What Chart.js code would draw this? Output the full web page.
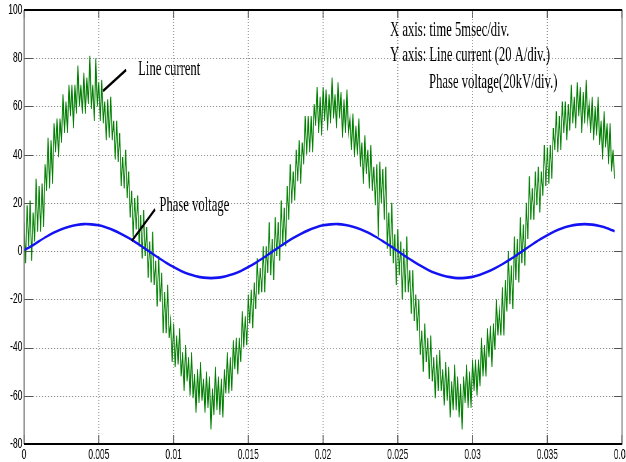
<!DOCTYPE html>
<html><head><meta charset="utf-8">
<script src="https://cdn.jsdelivr.net/npm/chart.js@4/dist/chart.umd.min.js"></script>
<style>
html,body{margin:0;padding:0;background:#fff;overflow:hidden;width:626px;height:462px;}
#c{display:block;width:1040px;height:462px;transform:scaleX(0.601923);transform-origin:0 0;}
</style></head><body>
<canvas id="c" width="1040" height="462"></canvas>
<script>
// ---- data ----
const currentStep = 0.0001;   // s between line-current samples
const voltageStep = 0.0005;   // s between phase-voltage samples

const currentValues = [
 12,-5,19,2,21,-4,16,4,30,8,27,8,28,10,36,25,47,26,46,28,
 53,41,55,39,55,45,65,49,62,49,69,56,69,51,69,57,77,60,69,57,
 74,57,72,61,81,59,69,54,80,60,70,54,71,53,62,46,63,47,64,46,
 54,38,54,37,49,27,39,26,42,22,33,14,25,6,22,9,23,2,15,-3,
 17,-2,10,-11,4,-13,8,-14,-4,-23,-2,-21,-9,-34,-17,-34,-14,-36,-29,-46,
 -30,-48,-35,-47,-32,-52,-42,-58,-39,-54,-44,-60,-42,-61,-51,-67,-49,-63,-46,-62,
 -53,-67,-50,-65,-52,-74,-57,-68,-48,-66,-52,-68,-53,-69,-49,-59,-42,-59,-44,-58,
 -37,-49,-36,-51,-36,-46,-25,-40,-27,-39,-18,-30,-16,-32,-13,-24,-3,-18,-7,-17,
 2,-17,2,-9,12,-10,5,-12,14,-2,12,-4,21,3,18,2,27,13,36,20,
 33,21,42,29,46,28,45,36,56,40,56,41,56,41,61,52,68,49,64,48,
 68,54,67,50,65,53,72,55,65,51,70,55,66,47,63,49,67,49,55,42,
 57,39,52,40,55,35,45,28,48,32,42,26,44,25,35,19,36,6,37,20,
 34,13,35,1,16,-2,20,-5,7,-14,9,-10,4,-20,1,-17,6,-17,-8,-26,
 -8,-29,-18,-33,-20,-43,-33,-50,-30,-46,-36,-53,-35,-54,-44,-61,-43,-58,-41,-58,
 -49,-64,-46,-62,-48,-69,-54,-66,-47,-66,-52,-69,-55,-74,-52,-63,-47,-65,-50,-65,
 -45,-58,-45,-60,-45,-56,-36,-52,-39,-52,-32,-44,-31,-48,-30,-41,-20,-35,-25,-35,
 -15,-35,-12,-25,0,-22,-6,-24,6,-12,5,-13,14,-5,11,-6,20,5,31,13,
 26,13,33,19,35,16,33,23,44,27,43,28,44,30,51,42,58,41,56,42,
 62,49,62,46,61,50,69,53,64,51,70,56,68,49,66,53,71,54,61,49,
 64,46,60,48,64,44,54,38,58,43,53,36,53,33,42,30
];

const voltageValues = [
 0.4,2.1,4.1,6.0,7.7,9.1,10.1,10.8,11.2,11.1,10.7,9.8,8.6,7.1,5.4,3.5,1.4,-0.7,-2.8,-4.8,
 -6.6,-8.2,-9.5,-10.4,-11.0,-11.2,-11.0,-10.4,-9.5,-8.2,-6.6,-4.8,-2.8,-0.7,1.4,3.5,5.4,7.1,8.6,9.8,
 10.7,11.1,11.2,10.8,10.1,9.1,7.7,6.0,4.1,2.1,0,-2.1,-4.1,-6.0,-7.7,-9.1,-10.1,-10.8,-11.2,-11.1,
 -10.7,-9.8,-8.6,-7.1,-5.4,-3.5,-1.4,0.7,2.8,4.8,6.6,8.2,9.5,10.4,11.0,11.2,11.0,10.4,9.5,8.2
];

const xTickValues = [0,0.005,0.01,0.015,0.02,0.025,0.03,0.035,0.04];
const xTickLabels = ['0','0.005','0.01','0.015','0.02','0.025','0.03','0.035','0.04'];
const yTickLabels = ['-80','-60','-40','-20','0','20','40','60','80','100'];

const noteTexts = ['Line current','Phase voltage','X axis: time 5msec/div.','Y axis: Line current (20 A/div.)','Phase voltage(20kV/div.)'];
const noteT = [0.00763, 0.00905, 0.02448, 0.02448, 0.02709];
const noteV = [73.0, 16.8, 89.2, 79.0, 67.6];
const pointerLines = [[0.00528,66.4,0.00682,75.1],[0.00720,4.2,0.00876,17.3]];

// ---- drawing ----
const SQUEEZE = 626/1040;

const currentPoints = currentValues.map((v,i)=>({x:+(i*currentStep).toFixed(5), y:v}));
const voltagePoints = voltageValues.map((v,i)=>({x:+(i*voltageStep).toFixed(5), y:v}));

const framePlugin = {
  id:'frame',
  beforeDatasetsDraw(chart){
    const {ctx, chartArea:{left,right,top,bottom}, scales:{x,y}} = chart;
    ctx.save();
    ctx.strokeStyle = '#8a8a8a';
    ctx.lineWidth = 1/SQUEEZE;
    ctx.setLineDash([1,2]);
    x.ticks.forEach(t=>{
      const px = x.getPixelForValue(t.value);
      if (px <= left+2 || px >= right-2) return;
      ctx.beginPath(); ctx.moveTo(px, top); ctx.lineTo(px, bottom); ctx.stroke();
    });
    ctx.lineWidth = 1;
    ctx.setLineDash([1/SQUEEZE, 2/SQUEEZE]);
    y.ticks.forEach(t=>{
      const py = Math.round(y.getPixelForValue(t.value)) + 0.5;
      if (py <= top+2 || py >= bottom-2) return;
      ctx.beginPath(); ctx.moveTo(left, py); ctx.lineTo(right, py); ctx.stroke();
    });
    ctx.setLineDash([]);
    // inner tick marks
    ctx.strokeStyle = '#555';
    ctx.lineWidth = 1/SQUEEZE;
    x.ticks.forEach(t=>{
      const px = x.getPixelForValue(t.value);
      ctx.beginPath(); ctx.moveTo(px, bottom); ctx.lineTo(px, bottom-9); ctx.stroke();
      ctx.beginPath(); ctx.moveTo(px, top); ctx.lineTo(px, top+8); ctx.stroke();
    });
    ctx.lineWidth = 1;
    y.ticks.forEach(t=>{
      const py = Math.round(y.getPixelForValue(t.value)) + 0.5;
      ctx.beginPath(); ctx.moveTo(left, py); ctx.lineTo(left+9/SQUEEZE, py); ctx.stroke();
      ctx.beginPath(); ctx.moveTo(right, py); ctx.lineTo(right-8/SQUEEZE, py); ctx.stroke();
    });
    ctx.restore();
  },
  afterDatasetsDraw(chart){
    const {ctx, chartArea:{left,right,top,bottom}} = chart;
    ctx.save();
    ctx.strokeStyle = '#666';
    ctx.lineWidth = 1/SQUEEZE;
    ctx.beginPath(); ctx.moveTo(left, top); ctx.lineTo(left, bottom); ctx.stroke();
    ctx.beginPath(); ctx.moveTo(right, top); ctx.lineTo(right, bottom); ctx.stroke();
    ctx.strokeStyle = '#000';
    ctx.lineWidth = 2;
    ctx.beginPath(); ctx.moveTo(left, top); ctx.lineTo(right, top); ctx.stroke();
    ctx.beginPath(); ctx.moveTo(left, bottom); ctx.lineTo(right, bottom); ctx.stroke();
    ctx.restore();
  }
};

const notesPlugin = {
  id:'notes',
  afterDraw(chart){
    const {ctx, scales:{x,y}} = chart;
    ctx.save();
    ctx.fillStyle = '#000';
    ctx.font = '21px "Liberation Serif", "Times New Roman", serif';
    ctx.textBaseline = 'alphabetic';
    ctx.textAlign = 'left';
    noteTexts.forEach((txt,i)=>{
      ctx.fillText(txt, x.getPixelForValue(noteT[i]), y.getPixelForValue(noteV[i]));
    });
    ctx.strokeStyle = '#000';
    ctx.lineWidth = 2.8;
    pointerLines.forEach(p=>{
      ctx.beginPath();
      ctx.moveTo(x.getPixelForValue(p[0]), y.getPixelForValue(p[1]));
      ctx.lineTo(x.getPixelForValue(p[2]), y.getPixelForValue(p[3]));
      ctx.stroke();
    });
    ctx.restore();
  }
};

const tickFont = {family:'"Liberation Sans", Arial, sans-serif', size:14};

new Chart(document.getElementById('c'), {
  type:'line',
  data:{datasets:[
    {label:'Phase voltage', data:voltagePoints, borderColor:'#1212f2', borderWidth:2.6, pointRadius:0, tension:0.3, order:0},
    {label:'Line current', data:currentPoints, borderColor:'#007f00', borderWidth:1.6, pointRadius:0, tension:0, order:1}
  ]},
  options:{
    responsive:false, animation:false, devicePixelRatio:1,
    layout:{padding:{top:10, right:6.6, left:0, bottom:0}},
    plugins:{legend:{display:false}, tooltip:{enabled:false}, title:{display:false}},
    scales:{
      x:{
        type:'linear', min:0, max:0.04,
        grid:{display:false, drawTicks:false}, border:{display:false},
        afterBuildTicks:s=>{ s.ticks = xTickValues.map(v=>({value:v})); },
        ticks:{autoSkip:false, maxRotation:0, minRotation:0, padding:3, color:'#000', font:tickFont,
               callback:(v,i)=>xTickLabels[i]},
        afterFit:s=>{ s.height = 18; s.paddingLeft = 0; s.paddingRight = 0; }
      },
      y:{
        type:'linear', min:-80, max:100,
        grid:{display:false, drawTicks:false}, border:{display:false},
        ticks:{stepSize:20, padding:3, color:'#000', font:tickFont,
               callback:(v,i)=>yTickLabels[i]},
        afterFit:s=>{ s.width = 40; s.paddingTop = 0; s.paddingBottom = 0; }
      }
    }
  },
  plugins:[framePlugin, notesPlugin]
});
</script>
</body></html>
